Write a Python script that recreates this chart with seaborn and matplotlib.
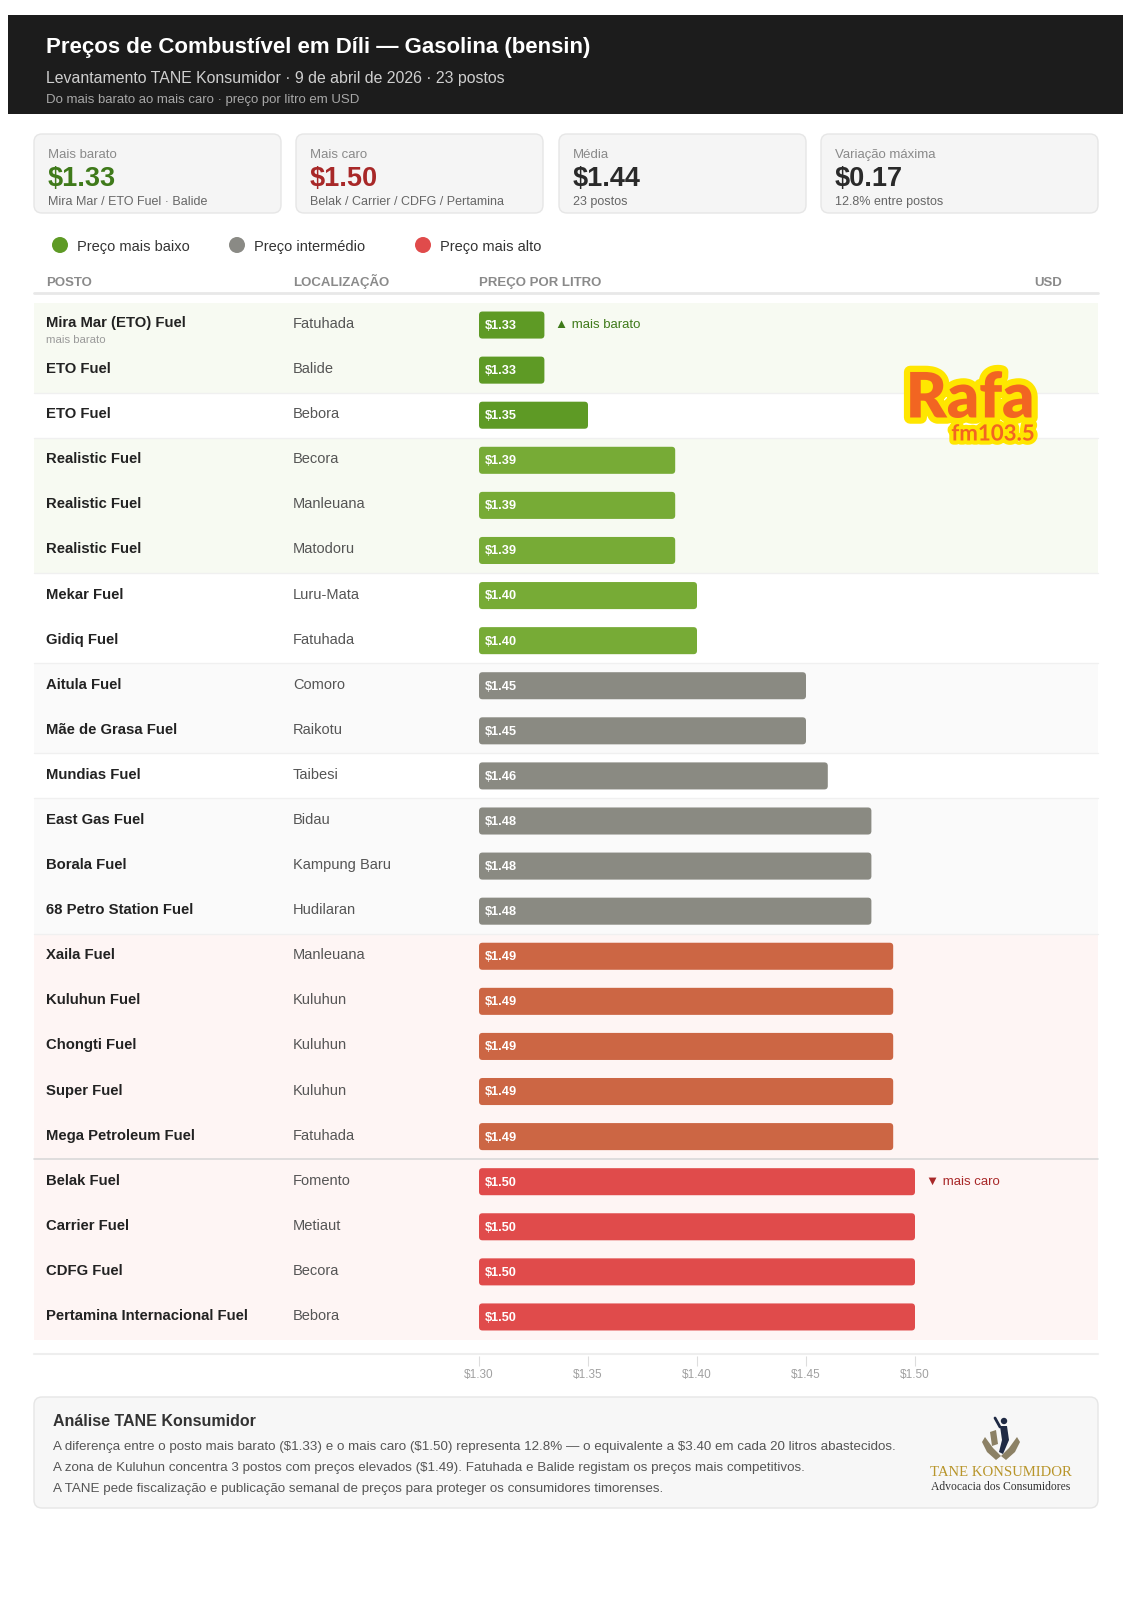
import numpy as np
import pandas as pd
import matplotlib
matplotlib.use("Agg")
import matplotlib.pyplot as plt
import seaborn as sns
from matplotlib.patches import FancyBboxPatch, Rectangle, Circle, Polygon
from matplotlib import transforms as mtrans
import matplotlib.patheffects as pe

# ---------------- data ----------------
stations = ["Mira Mar (ETO) Fuel", "ETO Fuel", "ETO Fuel", "Realistic Fuel", "Realistic Fuel",
            "Realistic Fuel", "Mekar Fuel", "Gidiq Fuel", "Aitula Fuel", "Mãe de Grasa Fuel",
            "Mundias Fuel", "East Gas Fuel", "Borala Fuel", "68 Petro Station Fuel", "Xaila Fuel",
            "Kuluhun Fuel", "Chongti Fuel", "Super Fuel", "Mega Petroleum Fuel", "Belak Fuel",
            "Carrier Fuel", "CDFG Fuel", "Pertamina Internacional Fuel"]
locations = ["Fatuhada", "Balide", "Bebora", "Becora", "Manleuana", "Matodoru", "Luru-Mata",
             "Fatuhada", "Comoro", "Raikotu", "Taibesi", "Bidau", "Kampung Baru", "Hudilaran",
             "Manleuana", "Kuluhun", "Kuluhun", "Kuluhun", "Fatuhada", "Fomento", "Metiaut",
             "Becora", "Bebora"]
prices = [1.33, 1.33, 1.35, 1.39, 1.39, 1.39, 1.40, 1.40, 1.45, 1.45, 1.46, 1.48, 1.48, 1.48,
          1.49, 1.49, 1.49, 1.49, 1.49, 1.50, 1.50, 1.50, 1.50]
tiers = ["Mínimo", "Mínimo", "Mínimo", "Baixo", "Baixo", "Baixo", "Baixo", "Baixo",
         "Intermédio", "Intermédio", "Intermédio", "Intermédio", "Intermédio", "Intermédio",
         "Alto", "Alto", "Alto", "Alto", "Alto", "Máximo", "Máximo", "Máximo", "Máximo"]
tick_values = [1.30, 1.35, 1.40, 1.45, 1.50]
tick_labels = ["$1.30", "$1.35", "$1.40", "$1.45", "$1.50"]

title = "Preços de Combustível em Díli — Gasolina (bensin)"
subtitle = "Levantamento TANE Konsumidor · 9 de abril de 2026 · 23 postos"
subtitle2 = "Do mais barato ao mais caro · preço por litro em USD"
card_labels = ["Mais barato", "Mais caro", "Média", "Variação máxima"]
card_values = ["$1.33", "$1.50", "$1.44", "$0.17"]
card_subs = ["Mira Mar / ETO Fuel · Balide", "Belak / Carrier / CDFG / Pertamina", "23 postos",
             "12.8% entre postos"]
legend_labels = ["Preço mais baixo", "Preço intermédio", "Preço mais alto"]
col_headers = ["POSTO", "LOCALIZAÇÃO", "PREÇO POR LITRO", "USD"]
analysis_title = "Análise TANE Konsumidor"
analysis_lines = [
    "A diferença entre o posto mais barato ($1.33) e o mais caro ($1.50) representa 12.8% — o equivalente a $3.40 em cada 20 litros abastecidos.",
    "A zona de Kuluhun concentra 3 postos com preços elevados ($1.49). Fatuhada e Balide registam os preços mais competitivos.",
    "A TANE pede fiscalização e publicação semanal de preços para proteger os consumidores timorenses.",
]

# ---------------- style ----------------
sns.set_theme(style="white")
plt.rcParams["font.family"] = ["Liberation Sans", "DejaVu Sans"]

W, H = 1131, 1600
fig = plt.figure(figsize=(W / 100, H / 100), dpi=100)
fig.patch.set_facecolor("white")

bg = fig.add_axes([0, 0, 1, 1])
bg.set_xlim(0, W)
bg.set_ylim(H, 0)
bg.axis("off")
bg.set_zorder(0)

palette = {"Mínimo": "#5e9a25", "Baixo": "#77ab36", "Intermédio": "#8a8a82",
           "Alto": "#cc6644", "Máximo": "#e04b4b"}
tint = {"Mínimo": "#f7faf2", "Baixo": "#f7faf2", "Intermédio": "#fafafa",
        "Alto": "#fef5f4", "Máximo": "#fef5f4"}

# geometry (pixels)
TBL_L, TBL_R = 34, 1098
BAR_L = 479
PX_PER_UNIT = 2180.0
ROW_TOP, ROW_BOT = 302.5, 1339.5
n = len(prices)

ax = fig.add_axes([BAR_L / W, 1 - ROW_BOT / H, (TBL_R - BAR_L) / W, (ROW_BOT - ROW_TOP) / H])
ax.set_facecolor("none")
ax.set_zorder(2)

df = pd.DataFrame({"key": [f"{i:02d}" for i in range(n)], "price": prices, "tier": tiers})
sns.barplot(data=df, x="price", y="key", hue="tier", order=list(df["key"]),
            hue_order=list(palette.keys()), palette=palette, dodge=False, width=0.6,
            orient="h", errorbar=None, saturation=1, legend=False, ax=ax)
x0 = tick_values[0]
ax.set_xlim(x0, x0 + (TBL_R - BAR_L) / PX_PER_UNIT)
ax.set_ylim(n - 0.5, -0.5)

# rounded bars from seaborn's rectangles
row_h_px = (ROW_BOT - ROW_TOP) / n
aspect = (1.0 / row_h_px) / (1.0 / PX_PER_UNIT)
for p in list(ax.patches):
    w = p.get_width()
    if not np.isfinite(w) or w <= 0:
        continue
    y, h = p.get_y(), p.get_height()
    fc = p.get_facecolor()
    right = p.get_x() + w
    p.remove()
    fb = FancyBboxPatch((x0, y), right - x0, h,
                        boxstyle=f"round,pad=0,rounding_size={3.5 / PX_PER_UNIT}",
                        mutation_aspect=aspect, fc=fc, ec="none", zorder=3)
    ax.add_patch(fb)
    row = int(round(y + h / 2))
    ax.text(x0 + 6 / PX_PER_UNIT, row + 0.02, f"${prices[row]:.2f}", color="white",
            fontsize=9.2, fontweight="bold", va="center", ha="left", zorder=4)

for s in ax.spines.values():
    s.set_visible(False)
ax.spines["bottom"].set_position(("outward", 12))
ax.set_xticks(tick_values)
ax.set_xticklabels(tick_labels)
ax.tick_params(axis="x", direction="out", length=7, width=0.8, color="#dddddd",
               labelsize=8.5, labelcolor="#a0a0a0", pad=2.5, bottom=True)
ax.tick_params(axis="y", left=False, labelleft=False)
ax.set_xlabel("")
ax.set_ylabel("")

trans = mtrans.blended_transform_factory(bg.transData, ax.transData)

# row bands
groups = list(dict.fromkeys(prices))
for i in range(n):
    gi = groups.index(prices[i])
    if gi % 2 == 0 or tiers[i] in ("Alto", "Máximo"):
        bg.add_patch(Rectangle((TBL_L, i - 0.5), TBL_R - TBL_L, 1, transform=trans,
                               fc=tint[tiers[i]], ec="none", zorder=0))
for i in range(1, n):
    if prices[i] != prices[i - 1]:
        strong = tiers[i] == "Máximo" and tiers[i - 1] == "Alto"
        bg.plot([TBL_L, TBL_R], [i - 0.5, i - 0.5], transform=trans,
                color="#d9d9d9" if strong else "#f0f0f0", lw=1.2 if strong else 1, zorder=1)

# row texts
up = mtrans.offset_copy(trans, fig=fig, y=1, units="dots")
for i in range(n):
    if i == 0:
        bg.text(46, i, stations[i], transform=mtrans.offset_copy(trans, fig=fig, y=2, units="dots"),
                fontsize=10.7, fontweight="bold", color="#222222", va="center")
        bg.text(46, i, "mais barato", transform=mtrans.offset_copy(trans, fig=fig, y=-15, units="dots"),
                fontsize=8.2, color="#9a9a9a", va="center")
    else:
        bg.text(46, i, stations[i], transform=up, fontsize=10.7, fontweight="bold",
                color="#222222", va="center")
    bg.text(293, i, locations[i], transform=up, fontsize=10.5, color="#555555", va="center")

bg.text(555, 0, "▲ mais barato", transform=trans, fontsize=9.5, color="#3f7a1a", va="center")
bg.text(926, 19, "▼ mais caro", transform=trans, fontsize=9.5, color="#a82828", va="center")

# header
bg.add_patch(Rectangle((8, 15), 1115, 99, fc="#1c1c1c", ec="none", zorder=1))
bg.text(46, 48, title, color="white", fontsize=16.0, fontweight="bold", va="center", zorder=2)
bg.text(46, 79, subtitle, color="#cfcfcf", fontsize=11.4, va="center", zorder=2)
bg.text(46, 100, subtitle2, color="#a8a8a8", fontsize=9.5, va="center", zorder=2)

# cards
card_x = [34, 296, 559, 821]
card_w = [247, 247, 247, 277]
val_colors = ["#3f7a1a", "#a82828", "#2a2a2a", "#2a2a2a"]
for cx, cw, lab, val, sub, vc in zip(card_x, card_w, card_labels, card_values, card_subs, val_colors):
    bg.add_patch(FancyBboxPatch((cx, 134), cw, 79, boxstyle="round,pad=0,rounding_size=8",
                                fc="#f5f5f5", ec="#e6e6e6", lw=1, zorder=1))
    bg.text(cx + 14, 155, lab, fontsize=9.5, color="#8a8a8a", va="center", zorder=2)
    bg.text(cx + 14, 179, val, fontsize=19.5, fontweight="bold", color=vc, va="center", zorder=2)
    bg.text(cx + 14, 202, sub, fontsize=9, color="#666666", va="center", zorder=2)

# legend
leg_x = [60, 237, 423]
leg_c = ["#5e9a25", "#8a8a85", "#e04b4b"]
for lx, lc, lt in zip(leg_x, leg_c, legend_labels):
    bg.add_patch(Circle((lx, 245), 8, fc=lc, ec="none", zorder=2))
    bg.text(lx + 17, 247, lt, fontsize=10.5, color="#333333", va="center", zorder=2)

# column headers
hdr_x = [46, 293, 479]
for hx, ht in zip(hdr_x, col_headers[:3]):
    bg.text(hx, 286, ht, fontsize=9.5, fontweight="bold", color="#8a8a8a", va="baseline")
bg.text(1062, 286, col_headers[3], fontsize=9.5, fontweight="bold", color="#8a8a8a",
        va="baseline", ha="right")
bg.plot([TBL_L, TBL_R], [293, 293], color="#e8e8e8", lw=2, zorder=1)

# bottom separator
bg.plot([TBL_L, TBL_R], [1354, 1354], color="#eeeeee", lw=1.5, zorder=1)

# Rafa logo
bg.text(970, 399, "Rafa", fontsize=45, fontweight="heavy", color="#f26522", ha="center",
        va="center", family=["Lato", "DejaVu Sans"],
        path_effects=[pe.withStroke(linewidth=9, foreground="#ffe600")], zorder=5)
bg.text(993, 434, "fm103.5", fontsize=16, fontweight="bold", color="#f26522", ha="center",
        va="center", family=["Lato", "DejaVu Sans"],
        path_effects=[pe.withStroke(linewidth=6, foreground="#ffe600")], zorder=5)

# analysis box
bg.add_patch(FancyBboxPatch((34, 1397), 1064, 111, boxstyle="round,pad=0,rounding_size=8",
                            fc="#f7f7f7", ec="#e6e6e6", lw=1, zorder=1))
bg.text(53, 1421, analysis_title, fontsize=11.5, fontweight="bold", color="#333333", va="center", zorder=2)
for ly, lt in zip([1447, 1468, 1489], analysis_lines):
    bg.text(53, ly, lt, fontsize=9.65, color="#555555", va="center", zorder=2)

# TANE logo
bg.add_patch(Polygon([[985, 1437], [993, 1448], [1001, 1456], [996, 1460], [987, 1452], [982, 1442]],
                     closed=True, fc="#8c8165", ec="none", zorder=3))
bg.add_patch(Polygon([[1017, 1437], [1009, 1448], [1001, 1456], [1006, 1460], [1015, 1452], [1020, 1442]],
                     closed=True, fc="#8c8165", ec="none", zorder=3))
bg.add_patch(Polygon([[990, 1432], [996, 1430], [998, 1444], [992, 1446]], closed=True,
                     fc="#8c8165", ec="none", zorder=3))
bg.add_patch(Circle((1004, 1421), 3.2, fc="#1f2a44", ec="none", zorder=4))
bg.add_patch(Polygon([[1000, 1426], [1007, 1426], [1009, 1440], [1003, 1454], [999, 1452], [1002, 1440]],
                     closed=True, fc="#1f2a44", ec="none", zorder=4))
bg.plot([1000, 995], [1427, 1418], color="#1f2a44", lw=2, zorder=4)
bg.text(1001, 1472, "TANE KONSUMIDOR", fontsize=10.6, color="#b8952a", ha="center", va="center",
        family=["Liberation Serif", "DejaVu Serif"], zorder=3)
bg.text(1001, 1487, "Advocacia dos Consumidores", fontsize=8.4, color="#333333", ha="center",
        va="center", family=["Liberation Serif", "DejaVu Serif"], zorder=3)

fig.savefig("out.png", dpi=100, facecolor="white")
